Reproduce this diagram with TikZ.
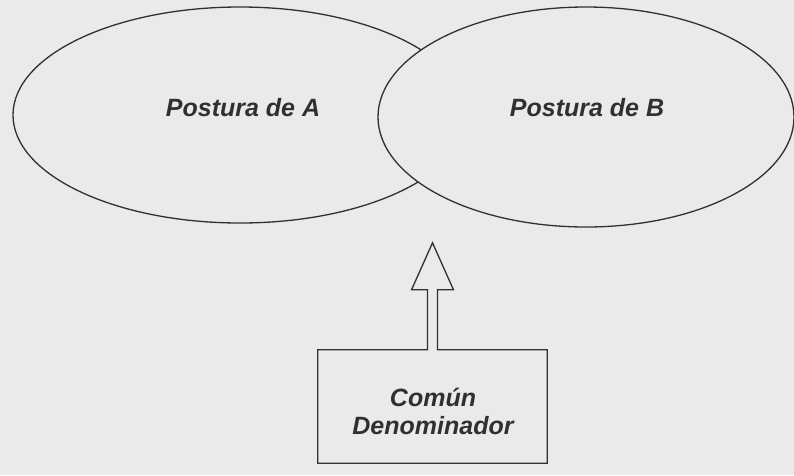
\documentclass[tikz,border=0pt]{standalone}
\usepackage{fontspec}
\setmainfont{Liberation Sans}
\usetikzlibrary{shapes.geometric}
\definecolor{paper}{HTML}{EAEAEA}
\definecolor{ink}{HTML}{303030}
\begin{document}
\begin{tikzpicture}[x=1pt,y=-1pt]
    \tikzstyle{every node}+=[inner sep=0pt]
    \tikzstyle{postura}=[ellipse, draw=ink, line width=1.3pt, fill=paper]
    \tikzstyle{lbl}=[text=ink, align=center, font=\fontsize{25}{28}\selectfont\bfseries\itshape]
    \fill [paper] (0,0) rectangle (794,475);
    \useasboundingbox (0,0) rectangle (794,475);
    % the two positions
    \node [postura, minimum width=454pt, minimum height=216pt] (ellA) at (240,115) {};
    \node [postura, minimum width=416pt, minimum height=220pt] (ellB) at (586,117) {};
    \node [lbl] (labA) at (243,108) {Postura de A};
    \node [lbl] (labB) at (587,108) {Postura de B};
    % common denominator box with its hollow arrow
    \node [minimum width=229pt, minimum height=113pt] (denom) at (432.5,406.5) {};
    \node [lbl] (labD) at (433,411) {Común\\Denominador};
    \coordinate (tip) at ([yshift=107pt]denom.north);
    \draw [ink, line width=1.3pt, line join=miter]
        ([xshift=-5pt]denom.north) -- (denom.north west) -- (denom.south west)
        -- (denom.south east) -- (denom.north east) -- ([xshift=5pt]denom.north)
        -- ++(0,-60) -- ++(16,0) -- (tip) -- ++(-21,47) -- ++(16,0) -- cycle;
\end{tikzpicture}
\end{document}
